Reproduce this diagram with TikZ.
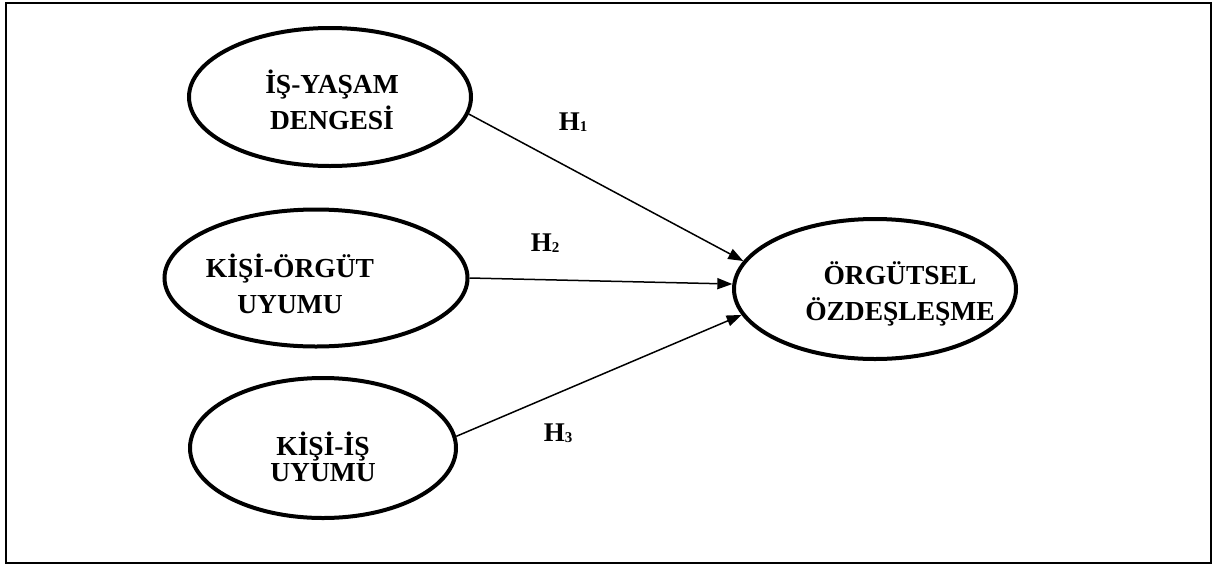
\documentclass[tikz,border=0pt]{standalone}
\usepackage{fontspec}
\setmainfont{Liberation Serif}
\usetikzlibrary{shapes.geometric,arrows.meta}
\begin{document}
\begin{tikzpicture}[x=1pt,y=-1pt,
  oval/.style={draw,ellipse,line width=4pt,inner sep=0pt},
  lbl/.style={align=center,inner sep=0pt,font=\bfseries\fontsize{27.5}{36}\selectfont},
  hyp/.style={inner sep=0pt,font=\bfseries\fontsize{27}{30}\selectfont},
  conn/.style={line width=1.5pt,-{Triangle[length=15pt,width=11pt]}}]
\useasboundingbox (0,0) rectangle (1215,568);
\draw[line width=2pt] (6,3) rectangle (1211,563);
\node[oval,minimum width=282pt,minimum height=138pt] (a) at (330,97) {};
\node[oval,minimum width=303pt,minimum height=137pt] (b) at (316,278) {};
\node[oval,minimum width=266pt,minimum height=140pt] (c) at (323,448) {};
\node[oval,minimum width=282pt,minimum height=140pt] (d) at (875,289) {};
\node[lbl] (ta) at (332,100) {İŞ-YAŞAM\\DENGESİ};
\node[lbl] (tb) at (290,284) {KİŞİ-ÖRGÜT\\UYUMU};
\node[lbl] (tc) at (323,457) {KİŞİ-İŞ\\[-10pt]UYUMU};
\node[lbl] (td) at (900,294) {ÖRGÜTSEL\\ÖZDEŞLEŞME};
\draw[conn] (a.-7.8) -- (d.168.9);
\draw[conn] (b.0.7) -- (d.178.8);
\draw[conn] (c.5.5) -- (d.191.3);
\node[hyp] (h1) at (573,122) {H\raisebox{-1pt}{\fontsize{15}{15}\selectfont 1}};
\node[hyp] (h2) at (545,243) {H\raisebox{-1pt}{\fontsize{15}{15}\selectfont 2}};
\node[hyp] (h3) at (558,433) {H\raisebox{-1pt}{\fontsize{15}{15}\selectfont 3}};
\end{tikzpicture}
\end{document}
